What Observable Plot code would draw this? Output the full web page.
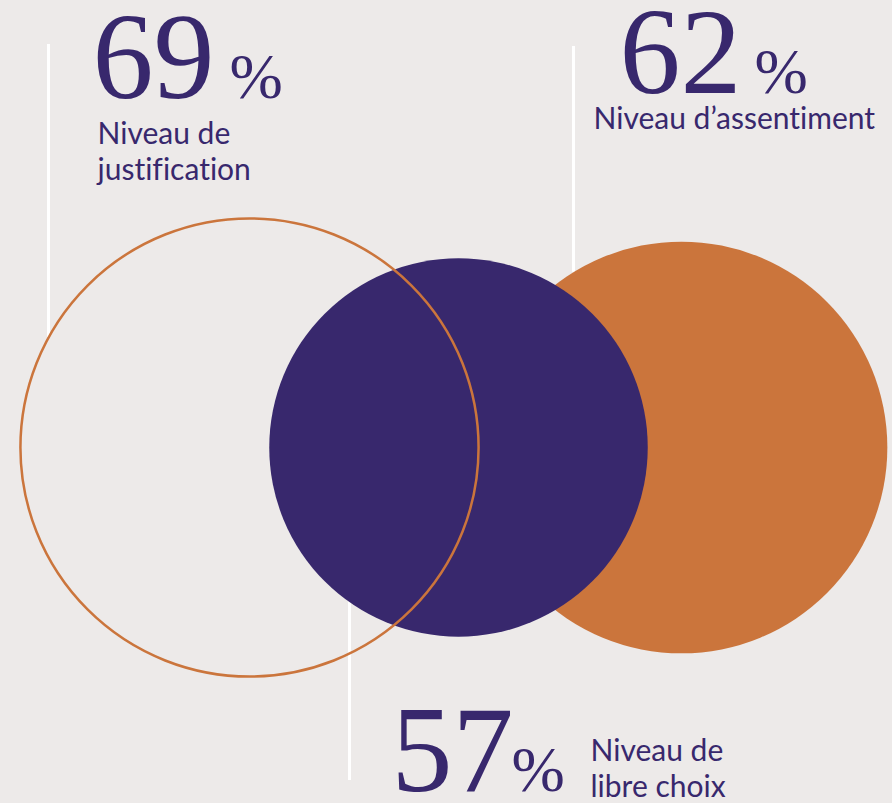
<!DOCTYPE html>
<html>
<head>
<meta charset="utf-8">
<script src="https://cdn.jsdelivr.net/npm/d3@7"></script>
<script src="https://cdn.jsdelivr.net/npm/@observablehq/plot@0.6"></script>
<style>
  html, body { margin: 0; padding: 0; background: #edeae9; }
  #chart svg { display: block; }
  #chart text { font-variant-ligatures: none; }
</style>
</head>
<body>
<div id="chart"></div>
<script>
// ---- data ----
const categories = ["Niveau de justification", "Niveau d’assentiment", "Niveau de libre choix"];
const values = [69, 62, 57];
const labelLines = [["Niveau de", "justification"], ["Niveau d’assentiment"], ["Niveau de", "libre choix"]];

// ---- styles / layout (not data) ----
const PURPLE = "#38286d";
const ORANGE = "#cb753c";
const BG = "#edeae9";
const W = 892, H = 803;
const PX_PER_UNIT = 3.32; // radius proportional to value
const SERIF = "'Liberation Serif', 'Times New Roman', 'DejaVu Serif', serif";

// circle centres (layout)
const centres = [
  {cx: 249, cy: 447, fill: "none", stroke: ORANGE, z: 2},   // justification (outline)
  {cx: 681, cy: 447, fill: ORANGE, stroke: "none", z: 0},   // assentiment
  {cx: 458, cy: 447, fill: PURPLE, stroke: "none", z: 1}    // libre choix
];
const circles = categories.map((c, i) => ({category: c, value: values[i], ...centres[i]}))
  .sort((a, b) => a.z - b.z);

// text anchors (layout)
const numAnchors = [
  {x: 92, y: 97, px: 229, ly: 143, lx: 97},
  {x: 619, y: 92, px: 754, ly: 128, lx: 593},
  {x: 391, y: 790, px: 511, ly: 760, lx: 590}
];
const numbers = values.map((v, i) => ({text: String(v), ...numAnchors[i]}));
const labels = labelLines.flatMap((lines, i) =>
  lines.map((t, j) => ({text: t, x: numAnchors[i].lx, y: numAnchors[i].ly + j * 36})));

// white guide lines: from label area to the circle edge
function edgeY(c, x, side) {
  const r = c.value * PX_PER_UNIT;
  const dx = x - c.cx;
  const dy = Math.sqrt(Math.max(0, r * r - dx * dx));
  return side === "top" ? c.cy - dy : c.cy + dy;
}
const byCat = Object.fromEntries(circles.map(c => [c.category, c]));
const guides = [
  {x: 48, y1: 44, y2: edgeY(byCat[categories[0]], 48, "top")},
  {x: 573, y1: 46, y2: edgeY(byCat[categories[1]], 573, "top")},
  {x: 349, y1: edgeY(byCat[categories[2]], 349, "bottom"), y2: 780}
];

const chart = Plot.plot({
  width: W,
  height: H,
  margin: 0,
  style: {background: BG},
  x: {domain: [0, W], range: [0, W], axis: null},
  y: {domain: [0, H], range: [0, H], axis: null},
  r: {type: "linear", domain: [0, 100], range: [0, 100 * PX_PER_UNIT]},
  marks: [
    Plot.ruleX(guides, {x: "x", y1: "y1", y2: "y2", stroke: "white", strokeWidth: 3}),
    Plot.dot(circles, {x: "cx", y: "cy", r: "value", sort: null, fill: d => d.fill, stroke: d => d.stroke, strokeWidth: 2.5}),
    Plot.text(numbers, {x: "x", y: "y", text: "text", textAnchor: "start", lineAnchor: "bottom",
      fontFamily: SERIF, fontSize: 122, fill: PURPLE}),
    Plot.text(numbers, {x: "px", y: "y", text: () => "%", textAnchor: "start", lineAnchor: "bottom",
      fontFamily: SERIF, fontSize: 64, fill: PURPLE}),
    Plot.text(labels, {x: "x", y: "y", text: "text", textAnchor: "start", lineAnchor: "bottom",
      fontFamily: "Lato", fontSize: 30, fill: PURPLE})
  ]
});
document.getElementById("chart").appendChild(chart);
</script>
</body>
</html>
